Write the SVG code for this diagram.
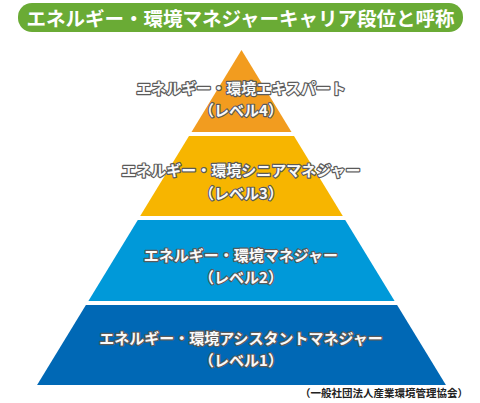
<svg xmlns="http://www.w3.org/2000/svg" width="480" height="403" viewBox="0 0 480 403">
<style>
.lbl{font-family:"Noto Sans CJK JP","Noto Sans",sans-serif;font-weight:bold;font-size:15px;fill:#fafafa;stroke:#5a5a5a;stroke-width:2.4px;stroke-linejoin:round;paint-order:stroke;text-anchor:middle}
.title{font-family:"Noto Sans CJK JP","Noto Sans",sans-serif;font-weight:bold;font-size:19.5px;fill:#fff;text-anchor:middle}
.note{font-family:"Noto Sans CJK JP","Noto Sans",sans-serif;font-weight:bold;font-size:10.5px;fill:#222;text-anchor:end}
</style>
<rect width="480" height="403" fill="#fff"/>
<g id="title">
<rect x="18" y="3" width="445" height="29" rx="14" fill="#6aab35"/>
<text class="title" x="240.5" y="26">エネルギー・環境マネジャーキャリア段位と呼称</text>
</g>
<g id="level4">
<polygon points="241.5,50 291.5,132 191.5,132" fill="#f29c1f"/>
<text class="lbl" x="241" y="93.5">エネルギー・環境エキスパート</text>
<text class="lbl" x="241" y="115.5">（レベル4）</text>
</g>
<g id="level3">
<polygon points="189,136 294,136 342.8,216 140.2,216" fill="#f7b500"/>
<text class="lbl" x="241" y="175.5">エネルギー・環境シニアマネジャー</text>
<text class="lbl" x="241" y="198.5">（レベル3）</text>
</g>
<g id="level2">
<polygon points="137.8,220 345.2,220 394.6,301 88.4,301" fill="#0099d9"/>
<text class="lbl" x="241" y="260.5">エネルギー・環境マネジャー</text>
<text class="lbl" x="241" y="282.5">（レベル2）</text>
</g>
<g id="level1">
<polygon points="85.9,305 397.1,305 445.9,385 37.1,385" fill="#0068b5"/>
<text class="lbl" x="241" y="343.5">エネルギー・環境アシスタントマネジャー</text>
<text class="lbl" x="241" y="365.5">（レベル1）</text>
</g>
<g id="connectors"></g>
<text class="note" x="468" y="397">（一般社団法人産業環境管理協会）</text>
</svg>
